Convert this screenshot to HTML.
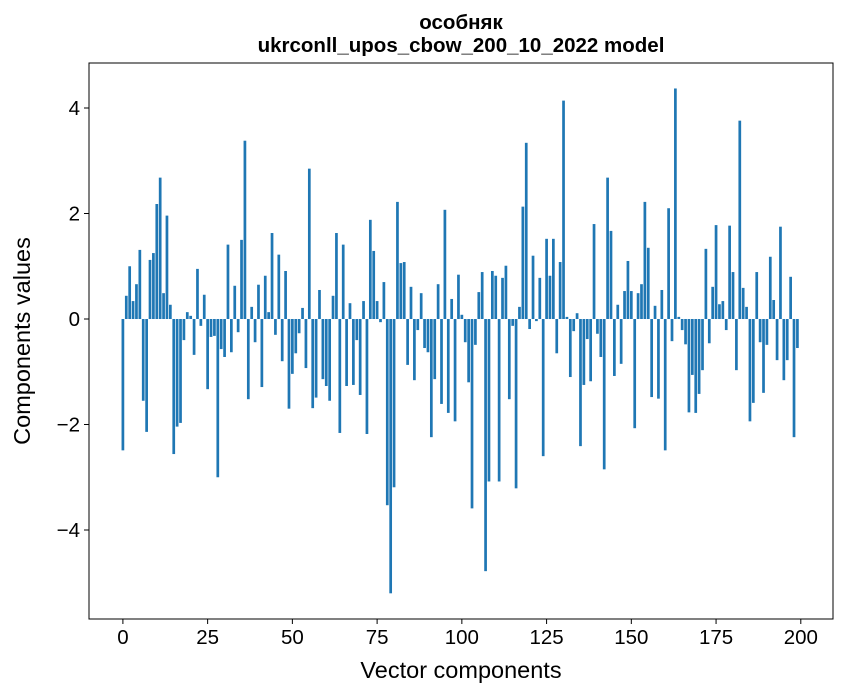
<!DOCTYPE html>
<html><head><meta charset="utf-8"><style>
body{margin:0;background:#fff;}
svg{display:block;font-family:"Liberation Sans","DejaVu Sans",sans-serif;}
</style></head><body>
<svg id="chart" width="847" height="696" viewBox="0 0 847 696" xmlns="http://www.w3.org/2000/svg">
<rect width="847" height="696" fill="#fff"/>
<text x="461" y="29" text-anchor="middle" font-size="20.5" font-weight="bold">особняк</text>
<text x="461" y="52" text-anchor="middle" font-size="20.5" font-weight="bold">ukrconll_upos_cbow_200_10_2022 model</text>
<g id="bars"></g>
<rect x="89" y="63" width="744" height="556" fill="none" stroke="#000" stroke-width="1"/>
<g id="xticks"></g>
<g id="yticks"></g>
<text x="461" y="678" text-anchor="middle" font-size="23.5">Vector components</text>
<text x="0" y="0" transform="translate(30,341) rotate(-90)" text-anchor="middle" font-size="23.5">Components values</text>
</svg>
<script>
const values = [-2.49,0.44,1.0,0.34,0.66,1.31,-1.55,-2.14,1.12,1.25,2.18,2.68,0.49,1.96,0.27,-2.56,-2.04,-1.97,-0.4,0.13,
0.06,-0.68,0.95,-0.13,0.46,-1.33,-0.34,-0.32,-3.0,-0.57,-0.72,1.41,-0.63,0.63,-0.25,1.5,3.38,-1.52,0.23,-0.44,
0.65,-1.29,0.82,0.13,1.63,-0.3,1.22,-0.8,0.91,-1.70,-1.04,-0.65,-0.27,0.21,-0.93,2.85,-1.69,-1.49,0.55,-1.14,
-1.27,-1.55,0.44,1.63,-2.16,1.41,-1.27,0.30,-1.25,-0.4,-1.44,0.34,-2.18,1.88,1.29,0.34,-0.06,0.70,-3.53,-5.2,
-3.19,2.22,1.06,1.08,-0.87,0.61,-1.16,-0.21,0.49,-0.55,-0.63,-2.24,-1.14,0.66,-1.61,2.07,-1.78,0.38,-1.94,0.84,
0.08,-0.44,-1.20,-3.59,-0.49,0.51,0.89,-4.78,-3.08,0.91,0.82,-3.08,0.78,1.01,-1.52,-0.13,-3.21,0.23,2.13,3.34,
-0.19,1.20,-0.04,0.78,-2.60,1.52,0.82,1.52,-0.65,1.08,4.14,0.04,-1.10,-0.23,0.11,-2.41,-1.25,-0.38,-1.18,1.80,
-0.28,-0.72,-2.85,2.68,1.67,-1.08,0.27,-0.85,0.53,1.10,0.53,-2.07,0.49,0.66,2.22,1.35,-1.48,0.25,-1.51,0.55,
-2.49,2.10,-0.42,4.37,0.04,-0.21,-0.48,-1.77,-1.06,-1.78,-1.42,-0.97,1.33,-0.46,0.61,1.78,0.28,0.34,-0.21,1.77,
0.89,-0.97,3.76,0.59,0.23,-1.94,-1.59,0.89,-0.44,-1.40,-0.49,1.18,0.36,-0.78,1.75,-1.16,-0.78,0.80,-2.24,-0.55];
const xTicks = [0,25,50,75,100,125,150,175,200];
const yTicks = [-4,-2,0,2,4];
const yTickLabels = ["\u22124","\u22122","0","2","4"];
const NS="http://www.w3.org/2000/svg";
const X0=89,X1=833,XMIN=-10,XMAX=209.5;
const Y0=619,Y1=63,YMIN=-5.687,YMAX=4.853;
function xs(v){return X0+(v-XMIN)*(X1-X0)/(XMAX-XMIN);}
function ys(v){return Y0-(v-YMIN)*(Y0-Y1)/(YMAX-YMIN);}
const bars=document.getElementById('bars');
values.forEach((v,i)=>{
  const r=document.createElementNS(NS,'rect');
  const xa=xs(i-0.4),xb=xs(i+0.4);
  const ya=ys(Math.max(v,0)),yb=ys(Math.min(v,0));
  r.setAttribute('x',xa);r.setAttribute('width',xb-xa);
  r.setAttribute('y',ya);r.setAttribute('height',Math.max(yb-ya,0.01));
  r.setAttribute('fill','#1f77b4');
  
  
  bars.appendChild(r);
});
const xg=document.getElementById('xticks');
xTicks.forEach(t=>{
  const l=document.createElementNS(NS,'line');
  l.setAttribute('x1',xs(t));l.setAttribute('x2',xs(t));l.setAttribute('y1',Y0);l.setAttribute('y2',Y0+5);
  l.setAttribute('stroke','#000');
  
  
  xg.appendChild(l);
  const tx=document.createElementNS(NS,'text');
  tx.setAttribute('x',xs(t));tx.setAttribute('y',Y0+25);tx.setAttribute('text-anchor','middle');tx.setAttribute('font-size','20.5');
  tx.textContent=t;
  
  
  xg.appendChild(tx);
});
const yg=document.getElementById('yticks');
yTicks.forEach((t,k)=>{
  const l=document.createElementNS(NS,'line');
  l.setAttribute('x1',X0-5);l.setAttribute('x2',X0);l.setAttribute('y1',ys(t));l.setAttribute('y2',ys(t));
  l.setAttribute('stroke','#000');
  
  
  yg.appendChild(l);
  const tx=document.createElementNS(NS,'text');
  tx.setAttribute('x',X0-9);tx.setAttribute('y',ys(t)+7);tx.setAttribute('text-anchor','end');tx.setAttribute('font-size','20.5');
  tx.textContent=yTickLabels[k];
  
  
  yg.appendChild(tx);
});
</script>
</body></html>
